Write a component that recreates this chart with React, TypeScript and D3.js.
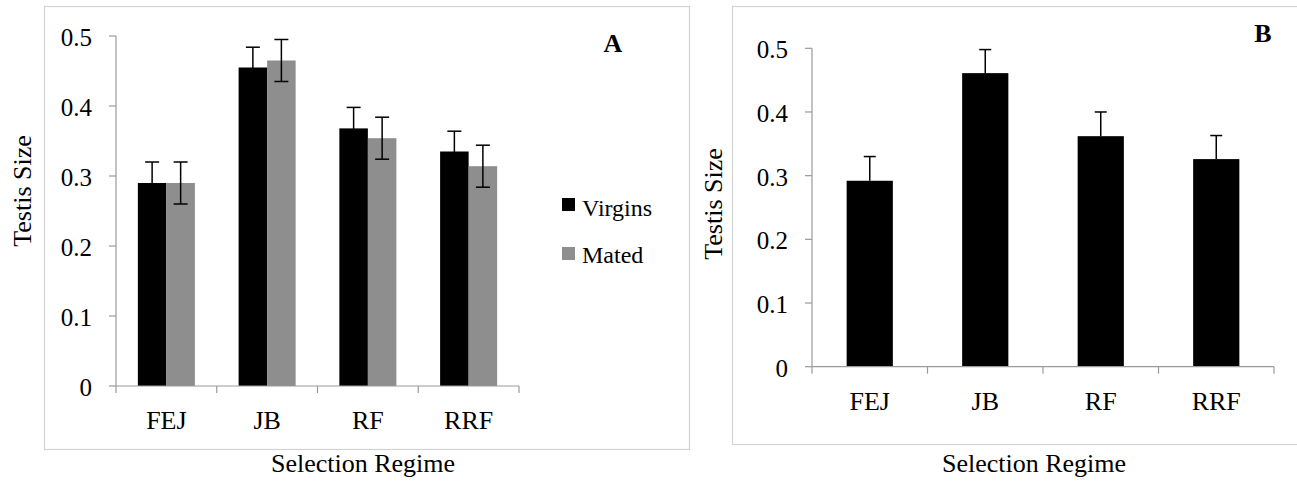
import React from "react";
import * as d3 from "d3";

// Data
const categories = ["FEJ", "JB", "RF", "RRF"];
const seriesNames = ["Virgins", "Mated"];
const virginsA = [0.29, 0.455, 0.368, 0.335];
const virginsErrA = [0.03, 0.029, 0.03, 0.029];
const matedA = [0.29, 0.465, 0.354, 0.314];
const matedErrA = [0.03, 0.03, 0.03, 0.03];
const valuesB = [0.292, 0.461, 0.362, 0.326];
const errB = [0.038, 0.037, 0.038, 0.037];
const yTicks = [0, 0.1, 0.2, 0.3, 0.4, 0.5];

const FONT = "'Liberation Serif', 'Times New Roman', Tinos, FreeSerif, 'Nimbus Roman', Times, serif";
const AXIS_COLOR = "#9a9a9a";
const FRAME_COLOR = "#d2d2d2";
const GRAY = "#8e8e8e";

const fmt = (d: number) => (d === 0 ? "0" : d3.format(".1f")(d));

// serif text element
const T = ({ bold, ...props }: React.SVGProps<SVGTextElement> & { bold?: boolean }) => (
  <text
    {...props}
    fontFamily={FONT}
    fontWeight={bold ? "bold" : 400}
    style={{ fontFamily: FONT, fontWeight: bold ? 700 : 400, fontStyle: "normal" }}
  />
);

// Y axis: line, left ticks, labels
const YAxis = ({ y, x0 }: { y: d3.ScaleLinear<number, number>; x0: number }) => (
  <g>
    <line x1={x0} x2={x0} y1={y(0)} y2={y(0.5)} stroke={AXIS_COLOR} strokeWidth={1.2} />
    {yTicks.map((t) => (
      <g key={t}>
        <line x1={x0 - 7} x2={x0} y1={y(t)} y2={y(t)} stroke={AXIS_COLOR} strokeWidth={1.2} />
        <T x={x0 - 24} y={y(t) + 10} textAnchor="end" fontSize={25}>
          {fmt(t)}
        </T>
      </g>
    ))}
  </g>
);

// X axis: line, ticks at category boundaries, centered labels
const XAxis = ({ x, y0, labelY }: { x: d3.ScaleBand<string>; y0: number; labelY: number }) => {
  const [r0, r1] = x.range();
  const bounds = d3.range(categories.length + 1).map((i) => r0 + i * x.step());
  return (
    <g>
      <line x1={r0} x2={r1} y1={y0} y2={y0} stroke={AXIS_COLOR} strokeWidth={1.2} />
      {bounds.map((b) => (
        <line key={b} x1={b} x2={b} y1={y0} y2={y0 + 7} stroke={AXIS_COLOR} strokeWidth={1.2} />
      ))}
      {categories.map((c) => (
        <T key={c} x={x(c)! + x.bandwidth() / 2} y={labelY} textAnchor="middle" fontSize={26}>
          {c}
        </T>
      ))}
    </g>
  );
};

const PanelA = () => {
  const yA = d3.scaleLinear().domain([0, 0.5]).range([386, 36]);
  const xA = d3
    .scaleBand()
    .domain(categories)
    .range([116, 519])
    .paddingInner(0.434)
    .paddingOuter(0.217);
  const xSub = d3.scaleBand().domain(seriesNames).range([0, xA.bandwidth()]);
  const colorA = d3.scaleOrdinal<string>().domain(seriesNames).range(["#000", GRAY]);

  const dataA = categories.flatMap((c, i) => [
    { cat: c, series: "Virgins", value: virginsA[i], err: virginsErrA[i] },
    { cat: c, series: "Mated", value: matedA[i], err: matedErrA[i] },
  ]);

  return (
    <g>
      <rect x={44.5} y={6.5} width={645} height={443} fill="#fff" stroke={FRAME_COLOR} strokeWidth={1.2} />
      {dataA.map((d) => (
        <rect
          key={d.cat + d.series}
          x={xA(d.cat)! + xSub(d.series)!}
          y={yA(d.value)}
          width={xSub.bandwidth()}
          height={yA(0) - yA(d.value)}
          fill={colorA(d.series)}
        />
      ))}
      <YAxis y={yA} x0={116} />
      <XAxis x={xA} y0={386} labelY={429} />
      <g stroke="#000" strokeWidth={1.5}>
        {dataA.map((d) => {
          const cx = xA(d.cat)! + xSub(d.series)! + xSub.bandwidth() / 2;
          const yt = yA(d.value + d.err);
          const yb = yA(d.value - d.err);
          return (
            <g key={d.cat + d.series}>
              <line x1={cx} x2={cx} y1={yt} y2={yb} />
              <line x1={cx - 7} x2={cx + 7} y1={yt} y2={yt} />
              <line x1={cx - 7} x2={cx + 7} y1={yb} y2={yb} />
            </g>
          );
        })}
      </g>
      {/* legend */}
      {seriesNames.map((s, i) => (
        <g key={s}>
          <rect x={562} y={198 + i * 49} width={13} height={13} fill={colorA(s)} />
          <T x={582} y={216 + i * 47} fontSize={24}>
            {s}
          </T>
        </g>
      ))}
      <T x={613} y={52} textAnchor="middle" fontSize={26} bold>
        A
      </T>
      <T transform="translate(31,191) rotate(-90)" textAnchor="middle" fontSize={26}>
        Testis Size
      </T>
      <T x={363} y={472} textAnchor="middle" fontSize={26}>
        Selection Regime
      </T>
    </g>
  );
};

const PanelB = () => {
  const yB = d3.scaleLinear().domain([0, 0.5]).range([366.7, 48.3]);
  const xB = d3
    .scaleBand()
    .domain(categories)
    .range([812, 1274])
    .paddingInner(0.6)
    .paddingOuter(0.3);

  return (
    <g>
      <rect x={732.5} y={6.5} width={620} height={438} fill="#fff" stroke={FRAME_COLOR} strokeWidth={1.2} />
      {valuesB.map((v, i) => (
        <rect
          key={categories[i]}
          x={xB(categories[i])!}
          y={yB(v)}
          width={xB.bandwidth()}
          height={yB(0) - yB(v)}
          fill="#000"
        />
      ))}
      <YAxis y={yB} x0={812} />
      <XAxis x={xB} y0={366.7} labelY={410} />
      <g stroke="#000" strokeWidth={1.5}>
        {valuesB.map((v, i) => {
          const cx = xB(categories[i])! + xB.bandwidth() / 2;
          const yt = yB(v + errB[i]);
          return (
            <g key={categories[i]}>
              <line x1={cx} x2={cx} y1={yB(v)} y2={yt} />
              <line x1={cx - 6} x2={cx + 6} y1={yt} y2={yt} />
            </g>
          );
        })}
      </g>
      <T x={1263} y={42} textAnchor="middle" fontSize={26} bold>
        B
      </T>
      <T transform="translate(722,204) rotate(-90)" textAnchor="middle" fontSize={26}>
        Testis Size
      </T>
      <T x={1034} y={472} textAnchor="middle" fontSize={26}>
        Selection Regime
      </T>
    </g>
  );
};

const App: React.FC = () => (
  <svg width={1297} height={482} style={{ position: "absolute", left: 0, top: 0 }}>
    <PanelA />
    <PanelB />
  </svg>
);

export default App;
